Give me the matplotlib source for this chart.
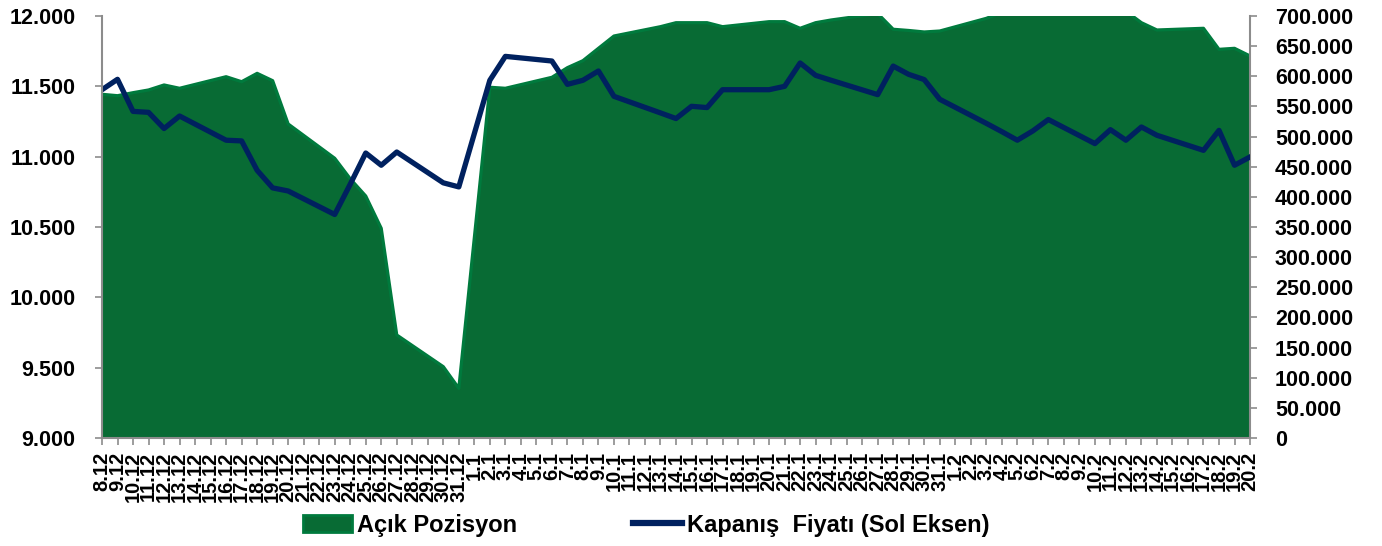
import numpy as np
import pandas as pd
import matplotlib
matplotlib.use("Agg")
import matplotlib.pyplot as plt
import matplotlib.dates as mdates
from matplotlib.patches import Patch
from matplotlib.lines import Line2D
from matplotlib.ticker import FuncFormatter, MultipleLocator

plt.rcParams['font.family'] = ['Liberation Sans', 'DejaVu Sans']
plt.rcParams['font.weight'] = 'bold'

# trading days shown on the chart
dates = ["2013-12-08", "2013-12-09", "2013-12-10", "2013-12-11", "2013-12-12", "2013-12-13",
         "2013-12-16", "2013-12-17", "2013-12-18", "2013-12-19", "2013-12-20",
         "2013-12-23", "2013-12-24", "2013-12-25", "2013-12-26", "2013-12-27",
         "2013-12-30", "2013-12-31", "2014-01-02", "2014-01-03",
         "2014-01-06", "2014-01-07", "2014-01-08", "2014-01-09", "2014-01-10",
         "2014-01-13", "2014-01-14", "2014-01-15", "2014-01-16", "2014-01-17",
         "2014-01-20", "2014-01-21", "2014-01-22", "2014-01-23", "2014-01-24",
         "2014-01-27", "2014-01-28", "2014-01-29", "2014-01-30", "2014-01-31",
         "2014-02-03", "2014-02-04", "2014-02-05", "2014-02-06", "2014-02-07",
         "2014-02-10", "2014-02-11", "2014-02-12", "2014-02-13", "2014-02-14",
         "2014-02-17", "2014-02-18", "2014-02-19", "2014-02-20"]

# Açık Pozisyon (right axis)
acik_pozisyon = [570100, 567800, 572800, 577300, 585600, 580100,
                 599300, 591000, 604900, 592700, 520900,
                 464000, 430000, 401400, 347800, 170900,
                 118300, 82400, 581800, 580100,
                 598300, 614300, 625900, 646400, 666800,
                 682300, 688900, 688900, 688900, 682300,
                 690600, 690600, 679600, 688900, 693400,
                 704000, 678000, 676000, 673500, 675100,
                 696100, 706000, 712000, 715000, 718000,
                 720000, 716000, 708000, 688900, 676800,
                 679600, 644700, 646400, 633700]

# Kapanış Fiyatı (left axis)
kapanis = [11476, 11550, 11322, 11315, 11200, 11289,
           11117, 11112, 10903, 10778, 10756,
           10589, 10804, 11026, 10939, 11033,
           10814, 10785, 11543, 11713,
           11680, 11514, 11543, 11609, 11429,
           11311, 11271, 11358, 11349, 11476,
           11476, 11500, 11666, 11578, 11543,
           11441, 11644, 11585, 11548, 11408,
           11237, 11178, 11117, 11183, 11264,
           11093, 11192, 11117, 11211, 11152,
           11045, 11187, 10939, 10998]

x = pd.to_datetime(dates)

fill_green = "#086B34"
edge_green = "#007A3D"
navy = "#00215F"
axis_grey = "#8C8C8C"

fig = plt.figure(figsize=(13.82, 5.46), dpi=100)
ax = fig.add_axes([0.0738, 0.1978, 0.8307, 0.7729])
ax2 = ax.twinx()

ax2.fill_between(x, acik_pozisyon, 0, color=fill_green, lw=0)
ax2.plot(x, acik_pozisyon, color=edge_green, lw=2.3, solid_joinstyle='round')
ax.plot(x, kapanis, color=navy, lw=3.8, solid_joinstyle='round')

ax.set_zorder(ax2.get_zorder() + 1)
ax.patch.set_visible(False)

ax.set_xlim(x[0], x[-1])
ax.set_ylim(9000, 12000)
ax2.set_ylim(0, 700000)

thousands = FuncFormatter(lambda v, p: f"{v:,.0f}".replace(",", "."))
ax.yaxis.set_major_locator(MultipleLocator(500))
ax.yaxis.set_major_formatter(thousands)
ax2.yaxis.set_major_locator(MultipleLocator(50000))
ax2.yaxis.set_major_formatter(thousands)

ax.xaxis.set_major_locator(mdates.DayLocator())
ax.xaxis.set_major_formatter(FuncFormatter(
    lambda v, p: f"{mdates.num2date(v).day}.{mdates.num2date(v).month}"))

for a in (ax, ax2):
    a.spines['top'].set_visible(False)
    for s in a.spines.values():
        s.set_color(axis_grey)
        s.set_linewidth(1.5)
ax.spines['right'].set_visible(False)
ax2.spines['left'].set_visible(False)
ax2.spines['bottom'].set_visible(False)

ax.tick_params(axis='x', direction='out', length=5, width=1.2, color=axis_grey,
               labelsize=14.5, labelrotation=90, pad=5)
ax.tick_params(axis='y', direction='out', length=5, width=1.2, color=axis_grey,
               labelsize=15.5, pad=14)
ax2.tick_params(axis='y', direction='out', length=5, width=1.2, color=axis_grey,
                labelsize=15.5, pad=13)
for lab in ax.get_xticklabels() + ax.get_yticklabels() + ax2.get_yticklabels():
    lab.set_fontweight('bold')

handles = [Patch(facecolor=fill_green, edgecolor=edge_green, lw=2),
           Line2D([0], [0], color=navy, lw=4.5)]
fig.legend(handles, ["Açık Pozisyon", "Kapanış  Fiyatı (Sol Eksen)"],
           loc='center', bbox_to_anchor=(0.4675, 0.038), ncol=2, frameon=False,
           prop={'weight': 'bold', 'size': 17}, handlelength=2.1,
           handletextpad=0.2, columnspacing=4.9, borderaxespad=0)

fig.savefig("out.png", dpi=100)
